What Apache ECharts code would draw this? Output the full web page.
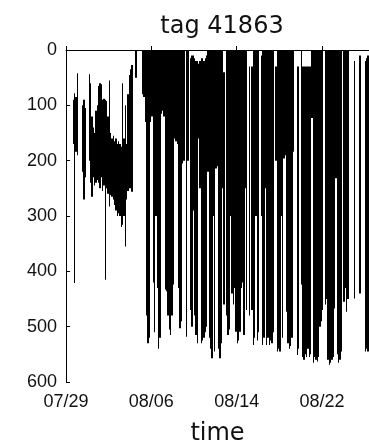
<!DOCTYPE html>
<html>
<head>
<meta charset="utf-8">
<script src="https://cdn.jsdelivr.net/npm/echarts@6/dist/echarts.min.js"></script>
<style>
  html, body { margin: 0; padding: 0; background: #fff; }
  #chart { width: 369px; height: 447px; }
</style>
</head>
<body>
<div id="chart"></div>
<script>
// Depth record of tag 41863, summarised in 3-hour steps (8 per day, from 07/29):
// shallowest and deepest depth (m) reached in each step; null = no record drawn.
const stepDays = 0.125;

const shallow = [
  null, null, null, null, null, 90, 78, 85,      // day 0
  42, null, null, null, 100, 90, 105, null,      // day 1
  null, 44, 60, 120, 140, 150, 110, 100,         // day 2
  65, 60, 62, 90, 88, 90, 92, 120,               // day 3
  55, 150, 160, 155, 165, 160, 170, 165,         // day 4
  170, 175, 60, 160, 100, 170, 80, 45,           // day 5
  35, 27, null, null, 0, null, null, null,       // day 6
  null, 0, 0, 0, 0, 0, 0, 0,                     // day 7
  0, 0, 0, 0, 0, 0, 0, 0,                        // day 8
  0, 0, 0, 0, 0, 0, 0, 0,                        // day 9
  0, 0, 0, 0, 0, 0, 0, 0,                        // day 10
  0, null, 0, 0, null, 15, 10, 10,               // day 11
  15, 20, 20, 25, 20, 15, 15, 20,                // day 12
  15, 10, 0, 0, 0, 0, 0, 0,                      // day 13
  0, 0, 0, 0, 0, 0, 40, null,                    // day 14
  0, 0, 0, 0, 0, 0, 0, 0,                        // day 15
  0, 0, 0, 0, 0, 0, 0, 0,                        // day 16
  null, 30, null, 30, 0, 0, 0, 0,                // day 17
  0, null, 10, 0, 0, 0, 0, 0,                    // day 18
  0, 0, 0, 0, null, 30, 0, 0,                    // day 19
  0, 0, 0, 0, 0, 0, 0, 0,                        // day 20
  0, 0, 0, null, null, 30, 30, null,             // day 21
  0, 30, 30, 30, 30, 30, 30, 30,                 // day 22
  0, 0, 0, 0, 0, 0, 0, 0,                        // day 23
  0, null, 0, 0, 0, 0, 0, 0,                     // day 24
  0, 0, 0, 0, 0, 0, 0, null,                     // day 25
  0, 0, 0, 0, null, null, null, null,            // day 26
  20, null, null, null, 10, null, null, null,    // day 27
  20, 15, 10, 10                                 // day 28
];

const deep = [
  null, null, null, null, null, 170, 421, 184,   // day 0
  190, null, null, null, 220, 270, 230, null,    // day 1
  null, 200, 240, 265, 230, 245, 240, 235,       // day 2
  240, 250, 230, 255, 245, 415, 250, 260,        // day 3
  283, 262, 265, 270, 280, 290, 300, 295,        // day 4
  300, 320, 316, 300, 355, 270, 255, 250,        // day 5
  250, 256, null, null, 50, null, null, null,    // day 6
  null, 80, 85, 130, 480, 530, 520, 130,         // day 7
  120, 420, 510, 300, 430, 540, 520, 115,        // day 8
  110, 120, 433, 436, 480, 505, 515, 480,        // day 9
  424, 160, 165, 170, 430, 503, 490, 205,        // day 10
  200, null, 518, 200, null, 470, 500, 290,      // day 11
  480, 515, 530, 160, 250, 530, 525, 520,        // day 12
  510, 500, 220, 520, 540, 557, 300, 545,        // day 13
  214, 210, 540, 557, 530, 250, 460, null,       // day 14
  480, 515, 505, 300, 440, 460, 430, 509,        // day 15
  530, 525, 509, 430, 420, 515, 250, 470,        // day 16
  null, 480, null, 470, 533, 520, 300, 525,      // day 17
  510, null, 300, 533, 520, 250, 533, 520,       // day 18
  533, 525, 530, 510, null, 200, 545, 540,       // day 19
  545, 300, 520, 196, 190, 473, 530, 540,        // day 20
  535, 520, 184, null, null, 551, 540, null,     // day 21
  424, 555, 560, 550, 555, 540, 555, 550,        // day 22
  123, 565, 555, 560, 563, 555, 500, 490,        // day 23
  470, null, 460, 450, 560, 569, 565, 560,       // day 24
  555, 467, 232, 550, 565, 560, 545, null,       // day 25
  455, 430, 473, 450, null, null, null, null,    // day 26
  449, null, null, null, 440, null, null, null,  // day 27
  545, 540, 545, 500                             // day 28
];

// Date labels for the x ticks, one every 8 days starting at day 0
const xTickLabels = ['07/29', '08/06', '08/14', '08/22'];
const xTickStep = 8;
const yTickStep = 100;

// One item per step: [start day, shallowest depth, deepest depth]
const ranges = [];
for (let i = 0; i < shallow.length; i++) {
  if (shallow[i] === null || deep[i] === null) continue;
  ranges.push([i * stepDays, shallow[i], deep[i]]);
}

// Each step fills the depth band it covered, snapped to whole pixels
// so neighbouring steps merge into solid black.
function renderRange(params, api) {
  const t = api.value(0);
  const top = api.coord([t, api.value(1)]);
  const bottom = api.coord([t + stepDays, api.value(2)]);
  const x0 = Math.round(top[0]);
  const x1 = Math.round(bottom[0]);
  return {
    type: 'rect',
    shape: {
      x: x0,
      y: top[1],
      width: Math.max(1, x1 - x0),
      height: Math.max(1, bottom[1] - top[1])
    },
    style: { fill: '#000' }
  };
}

const chart = echarts.init(document.getElementById('chart'), null, { renderer: 'canvas' });
const tickFont = { fontFamily: 'Liberation Sans, Arial, sans-serif', fontSize: 18, color: '#111' };

chart.setOption({
  animation: false,
  backgroundColor: '#fff',
  title: {
    text: 'tag 41863',
    left: 217,
    top: 10,
    textAlign: 'center',
    textStyle: { fontFamily: 'DejaVu Sans, sans-serif', fontSize: 24, fontWeight: 'normal', color: '#111' }
  },
  grid: { left: 66, top: 50, right: 0, bottom: 65, containLabel: false, outerBoundsMode: 'none' },
  xAxis: {
    type: 'value',
    min: 0,
    max: 28.4,
    interval: xTickStep,
    name: 'time',
    nameLocation: 'middle',
    nameGap: 40,
    nameTextStyle: { fontFamily: 'DejaVu Sans, sans-serif', fontSize: 24, color: '#111' },
    axisLine: { show: true, lineStyle: { color: '#000', width: 1 } },
    axisTick: { show: true, inside: true, length: 4, lineStyle: { color: '#000' } },
    splitLine: { show: false },
    axisLabel: Object.assign({}, tickFont, {
      margin: 11,
      showMaxLabel: false,
      formatter: v => {
        const k = Math.round(v / xTickStep);
        return Math.abs(v - k * xTickStep) < 1e-6 && xTickLabels[k] ? xTickLabels[k] : '';
      }
    })
  },
  yAxis: {
    type: 'value',
    inverse: true,
    min: 0,
    max: 600,
    interval: yTickStep,
    axisLine: { show: true, lineStyle: { color: '#000', width: 1 } },
    axisTick: { show: true, inside: true, length: 4, lineStyle: { color: '#000' } },
    splitLine: { show: false },
    axisLabel: Object.assign({}, tickFont, { margin: 9 })
  },
  series: [{
    type: 'custom',
    renderItem: renderRange,
    data: ranges,
    encode: { x: 0, y: [1, 2] },
    clip: true,
    silent: true
  }]
});
</script>
</body>
</html>
